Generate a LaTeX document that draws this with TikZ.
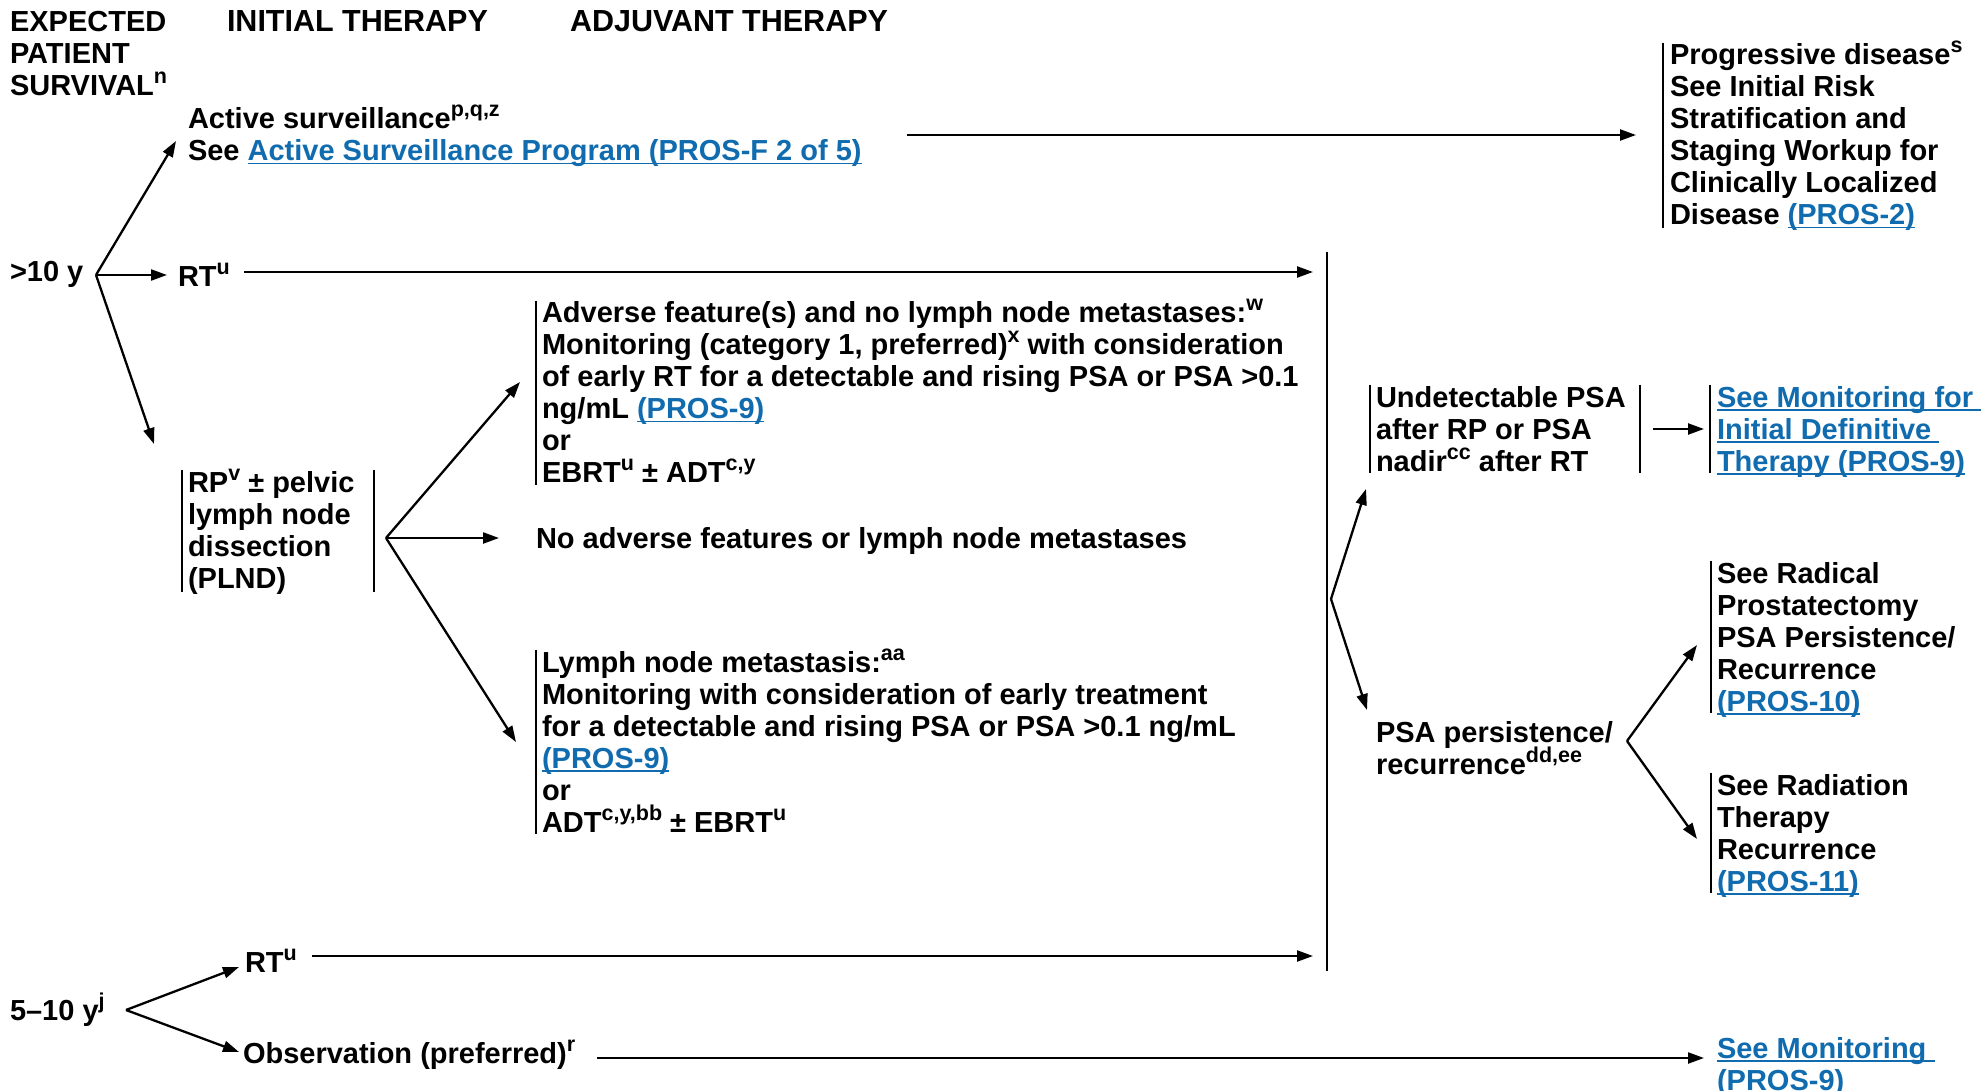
\documentclass[tikz,border=0pt]{standalone}
\usepackage{fontspec}
\setmainfont{Liberation Sans}
\usetikzlibrary{arrows.meta,calc}
\definecolor{linkc}{RGB}{16,108,175}
\newlength\lnkw
\newcommand\lnk[1]{\settowidth{\lnkw}{#1}\textcolor{linkc}{\rlap{\rule[-3.5pt]{\lnkw}{1.8pt}}#1}}
\newcommand\sps[1]{\smash{\raisebox{12pt}{\fontsize{21.5}{21.5}\selectfont #1}}}
\newcommand\ml[1]{\begin{tabular}[t]{@{}l@{}}#1\end{tabular}}
\tikzset{
  txt/.style={anchor=base west, inner sep=0pt, outer sep=0pt, font=\fontsize{29}{32}\selectfont\bfseries},
  hdr/.style={txt, font=\fontsize{30.5}{32}\selectfont\bfseries},
  arr/.style={draw, line width=2.3pt, -{Triangle[length=16pt,width=11pt]}},
  bar/.style={draw, line width=2pt}
}
\begin{document}
\begin{tikzpicture}[x=1pt,y=-1pt]
\fill[white] (0,0) rectangle (1984,1091);
\useasboundingbox (0,0) rectangle (1984,1091);

% headers
\node[txt] (hsurv) at (10,32) {\ml{EXPECTED\\PATIENT\\SURVIVAL\sps{n}}};
\node[hdr] (hinit) at (227,32) {INITIAL THERAPY};
\node[hdr] (hadj) at (570,32) {ADJUVANT THERAPY};

% nodes
\node[txt] (as) at (188,129) {\ml{Active surveillance\sps{p,q,z}\\See \lnk{Active Surveillance Program (PROS-F 2 of 5)}}};
\node[txt] (prog) at (1670,65) {\ml{Progressive disease\sps{s}\\See Initial Risk\\Stratification and\\Staging Workup for\\Clinically Localized\\Disease \lnk{(PROS-2)}}};
\node[txt] (gt10) at (10,282) {>10 y};
\node[txt] (rt1) at (178,287) {RT\sps{u}};
\node[txt] (rp) at (188,492) {\ml{RP\sps{v} ± pelvic\\lymph node\\dissection\\(PLND)}};
\node[txt] (adv) at (542,323) {\ml{Adverse feature(s) and no lymph node metastases:\sps{w}\\Monitoring (category 1, preferred)\sps{x} with consideration\\of early RT for a detectable and rising PSA or PSA >0.1\\ng/mL \lnk{(PROS-9)}\\or\\EBRT\sps{u} ± ADT\sps{c,y}}};
\node[txt] (noadv) at (536,548) {No adverse features or lymph node metastases};
\node[txt] (lnm) at (542,672) {\ml{Lymph node metastasis:\sps{aa}\\Monitoring with consideration of early treatment\\for a detectable and rising PSA or PSA >0.1 ng/mL\\\lnk{(PROS-9)}\\or\\ADT\sps{c,y,bb} ± EBRT\sps{u}}};
\node[txt] (undet) at (1376,407) {\ml{Undetectable PSA\\after RP or PSA\\nadir\sps{cc} after RT}};
\node[txt] (seemon1) at (1717,407) {\ml{\lnk{See Monitoring for\ }\\\lnk{Initial Definitive\ }\\\lnk{Therapy (PROS-9)}}};
\node[txt] (psa) at (1376,742) {\ml{PSA persistence/\\recurrence\sps{dd,ee}}};
\node[txt] (rpr) at (1717,583) {\ml{See Radical\\Prostatectomy\\PSA Persistence/\\Recurrence\\\lnk{(PROS-10)}}};
\node[txt] (rtr) at (1717,795) {\ml{See Radiation\\Therapy\\Recurrence\\\lnk{(PROS-11)}}};
\node[txt] (r510) at (10,1020) {5–10 y\sps{j}};
\node[txt] (rt2) at (245,972) {RT\sps{u}};
\node[txt] (obs) at (243,1063) {Observation (preferred)\sps{r}};
\node[txt] (seemon2) at (1717,1058) {\ml{\lnk{See Monitoring\ }\\\lnk{(PROS-9)}}};

% bars
\draw[bar] ([xshift=-7pt]prog.north west) -- ([xshift=-7pt,yshift=6.6pt]prog.south west);
\draw[bar] ([xshift=-6pt]rp.north west) -- ([xshift=-6pt,yshift=5.6pt]rp.south west);
\draw[bar] ([xshift=186pt]rp.north west) -- ([xshift=186pt,yshift=5.6pt]rp.south west);
\draw[bar] ([xshift=-6pt]adv.north west) -- ([xshift=-6pt,yshift=7.6pt]adv.south west);
\draw[bar] ([xshift=-6pt]lnm.north west) -- ([xshift=-6pt,yshift=7.6pt]lnm.south west);
\draw[bar] ([xshift=-6pt]undet.north west) -- ([xshift=-6pt,yshift=7.6pt]undet.south west);
\draw[bar] ([xshift=264pt]undet.north west) -- ([xshift=264pt,yshift=7.6pt]undet.south west);
\draw[bar] ([xshift=-7pt]seemon1.north west) -- ([xshift=-7pt,yshift=7.6pt]seemon1.south west);
\draw[bar] ([xshift=-6pt]rpr.north west) -- ([xshift=-6pt,yshift=7.6pt]rpr.south west);
\draw[bar] ([xshift=-6pt]rtr.north west) -- ([xshift=-6pt,yshift=7.6pt]rtr.south west);

% big collecting bar
\coordinate (bbtop) at (1327,252);
\coordinate (bbbot) at (1327,971);
\coordinate (bbin1) at (1313,272);
\coordinate (bbin2) at (1313,956);
\coordinate (b3) at (1331,599);
\draw[line width=2.2pt] (bbtop) -- (bbbot);

% branch points
\coordinate (b1) at ([xshift=86pt,yshift=7pt]gt10.base west);
\coordinate (b2) at ([xshift=198pt,yshift=-46pt]rp.base west);
\coordinate (b4) at ([xshift=251pt,yshift=1pt]psa.base west);
\coordinate (b5) at ([xshift=116pt,yshift=10pt]r510.base west);

% connectors
\draw[arr] (b1) -- ([xshift=-12pt,yshift=-12pt]as.base west);
\draw[arr] (b1) -- ([xshift=-11pt,yshift=12pt]rt1.base west);
\draw[arr] (b1) -- ([xshift=-34pt,yshift=48pt]rp.base west);
\draw[arr] ([xshift=719pt,yshift=-6pt]as.base west) -- ([xshift=-34pt,yshift=-70pt]prog.base west);
\draw[arr] ([xshift=66pt,yshift=15pt]rt1.base west) -- (bbin1);
\draw[arr] (b2) -- ([xshift=-22pt,yshift=-59pt]adv.base west);
\draw[arr] (b2) -- ([xshift=-37pt,yshift=10pt]noadv.base west);
\draw[arr] (b2) -- ([xshift=-26pt,yshift=-70pt]lnm.base west);
\draw[arr] (b3) -- ([xshift=-10pt,yshift=-82pt]undet.base west);
\draw[arr] (b3) -- ([xshift=-9pt,yshift=32pt]psa.base west);
\draw[arr] ([xshift=277pt,yshift=-22pt]undet.base west) -- ([xshift=-13pt,yshift=-22pt]seemon1.base west);
\draw[arr] (b4) -- ([xshift=-20pt,yshift=-62pt]rpr.base west);
\draw[arr] (b4) -- ([xshift=-20pt,yshift=-44pt]rtr.base west);
\draw[arr] (b5) -- ([xshift=-6pt,yshift=5pt]rt2.base west);
\draw[arr] (b5) -- ([xshift=-4pt,yshift=11pt]obs.base west);
\draw[arr] ([xshift=67pt,yshift=16pt]rt2.base west) -- (bbin2);
\draw[arr] ([xshift=354pt,yshift=5pt]obs.base west) -- ([xshift=-13pt]seemon2.base west);
\end{tikzpicture}
\end{document}
